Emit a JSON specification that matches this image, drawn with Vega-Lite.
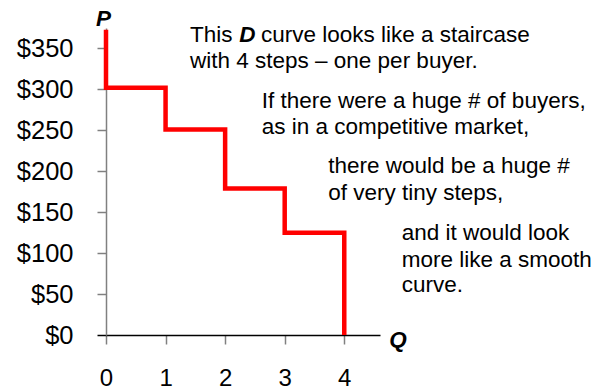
{
  "$schema": "https://vega.github.io/schema/vega-lite/v6.json",
  "width": 274,
  "height": 307,
  "autosize": {"type": "none"},
  "padding": {"left": 106, "top": 28, "right": 224, "bottom": 55},
  "background": "white",
  "config": {"view": {"stroke": null}, "font": "Liberation Sans"},
  "datasets": {
    "demand": [
      {"q": 0, "p": 373, "i": 0},
      {"q": 0, "p": 302, "i": 1},
      {"q": 1, "p": 302, "i": 2},
      {"q": 1, "p": 251, "i": 3},
      {"q": 2, "p": 251, "i": 4},
      {"q": 2, "p": 179, "i": 5},
      {"q": 3, "p": 179, "i": 6},
      {"q": 3, "p": 125, "i": 7},
      {"q": 4, "p": 125, "i": 8},
      {"q": 4, "p": 0, "i": 9}
    ],
    "notes": [
      {"q": 1.41, "p": 358.3, "text": "This"},
      {"q": 2.602, "p": 358.3, "text": "curve looks like a staircase"},
      {"q": 1.41, "p": 325.8, "text": "with 4 steps – one per buyer."},
      {"q": 2.614, "p": 277.6, "text": "If there were a huge # of buyers,"},
      {"q": 2.614, "p": 245.1, "text": "as in a competitive market,"},
      {"q": 3.732, "p": 197.5, "text": "there would be a huge #"},
      {"q": 3.732, "p": 164.9, "text": "of very tiny steps,"},
      {"q": 4.964, "p": 116.0, "text": "and it would look"},
      {"q": 4.964, "p": 83.4, "text": "more like a smooth"},
      {"q": 4.964, "p": 52.2, "text": "curve."}
    ],
    "bold": [
      {"q": 2.238, "p": 358.3, "text": "D"},
      {"q": -0.168, "p": 377.4, "text": "P"},
      {"q": 4.757, "p": -14.3, "text": "Q"}
    ]
  },
  "layer": [
    {
      "data": {"name": "demand"},
      "mark": {"type": "line", "color": "#ff0000", "strokeWidth": 4.5, "clip": false},
      "encoding": {
        "x": {
          "field": "q", "type": "quantitative",
          "scale": {"domain": [0, 4.6], "nice": false, "zero": false},
          "axis": {
            "values": [0, 1, 2, 3, 4], "format": "d", "title": null, "grid": false,
            "domainColor": "#000000", "domainWidth": 1.5,
            "tickColor": "#808080", "tickSize": 9, "tickWidth": 1.5,
            "labelFontSize": 24, "labelColor": "#000000", "labelPadding": 22,
            "labelFont": "Liberation Sans", "labelFlush": false
          }
        },
        "y": {
          "field": "p", "type": "quantitative",
          "scale": {"domain": [0, 375], "nice": false},
          "axis": {
            "values": [0, 50, 100, 150, 200, 250, 300, 350], "title": null, "grid": false,
            "labelExpr": "'$' + datum.value",
            "domainColor": "#808080", "domainWidth": 1.5,
            "tickColor": {"condition": {"test": "datum.value === 0", "value": "#000000"}, "value": "#808080"},
            "tickSize": 9, "tickWidth": 1.5,
            "labelFontSize": 25.5, "labelColor": "#000000", "labelPadding": 24,
            "labelFont": "Liberation Sans", "labelFlush": false
          }
        },
        "order": {"field": "i", "type": "quantitative"}
      }
    },
    {
      "data": {"name": "notes"},
      "mark": {"type": "text", "align": "left", "baseline": "alphabetic", "fontSize": 22.5, "font": "Liberation Sans", "color": "#000000", "clip": false},
      "encoding": {
        "x": {"field": "q", "type": "quantitative"},
        "y": {"field": "p", "type": "quantitative"},
        "text": {"field": "text"}
      }
    },
    {
      "data": {"name": "bold"},
      "mark": {"type": "text", "align": "left", "baseline": "alphabetic", "fontSize": 22.5, "font": "Liberation Sans", "fontWeight": "bold", "fontStyle": "italic", "color": "#000000", "clip": false},
      "encoding": {
        "x": {"field": "q", "type": "quantitative"},
        "y": {"field": "p", "type": "quantitative"},
        "text": {"field": "text"}
      }
    }
  ]
}
